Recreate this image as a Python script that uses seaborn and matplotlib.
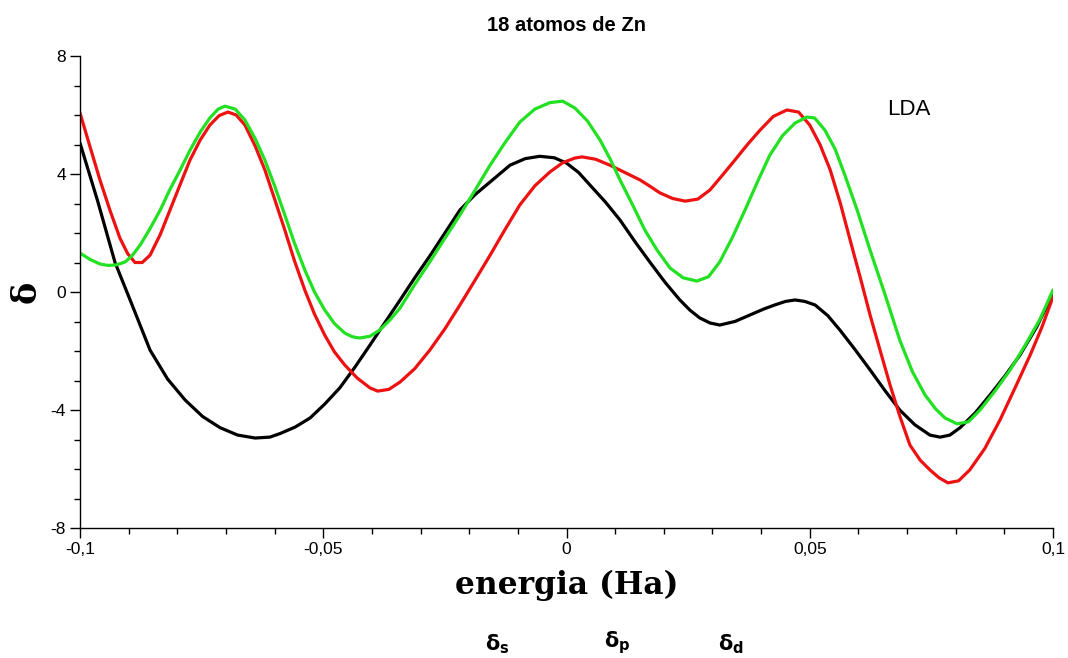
import numpy as np
import pandas as pd
import matplotlib
matplotlib.use("Agg")
import matplotlib.pyplot as plt
import seaborn as sns
from matplotlib.ticker import MultipleLocator, FixedLocator

# ---------------- data ----------------
title = "18 atomos de Zn"
x_label = "energia (Ha)"
y_label = "δ"
annotation = "LDA"
series_names = ["s", "p", "d"]
series_colors = ["#000000", "#ee1111", "#22e022"]

xticks = [-0.1, -0.05, 0.0, 0.05, 0.1]
xtick_labels = ["-0,1", "-0,05", "0", "0,05", "0,1"]
yticks = [-8, -4, 0, 4, 8]
ytick_labels = ["-8", "-4", "0", "4", "8"]

s_x = [-0.1, -0.0964, -0.0928, -0.0897, -0.0856, -0.0820, -0.0784, -0.0748, -0.0712,
       -0.0676, -0.0640, -0.0610, -0.0589, -0.0558, -0.0527, -0.0497, -0.0466,
       -0.0435, -0.0404, -0.0373, -0.0342, -0.0312, -0.0281, -0.0250, -0.0219,
       -0.0188, -0.0157, -0.0116, -0.0085, -0.0055, -0.0025, 0.0, 0.0025, 0.0048,
       0.0080, 0.0110, 0.0141, 0.0172, 0.0203, 0.0233, 0.0254, 0.0274, 0.0295,
       0.0315, 0.0346, 0.0377, 0.0405, 0.0428, 0.0450, 0.0470, 0.0490, 0.0511,
       0.0537, 0.0562, 0.0593, 0.0624, 0.0655, 0.0685, 0.0716, 0.0747, 0.0768,
       0.0788, 0.0809, 0.0840, 0.0870, 0.0901, 0.0932, 0.0966, 0.1]
s_y = [5.05, 3.1, 1.0, -0.27, -1.97, -2.95, -3.66, -4.22, -4.6,
       -4.85, -4.95, -4.92, -4.8, -4.58, -4.27, -3.8, -3.25,
       -2.55, -1.8, -1.03, -0.27, 0.48, 1.22, 2.0, 2.78,
       3.3, 3.73, 4.3, 4.52, 4.6, 4.55, 4.37, 4.05, 3.63,
       3.05, 2.44, 1.7, 1.0, 0.32, -0.27, -0.62, -0.88, -1.05,
       -1.12, -1.0, -0.78, -0.58, -0.44, -0.32, -0.27, -0.32, -0.44,
       -0.8, -1.29, -1.95, -2.64, -3.35, -4.0, -4.5, -4.85, -4.92,
       -4.85, -4.6, -4.1, -3.5, -2.85, -2.14, -1.2, -0.05]

p_x = [-0.1, -0.0979, -0.0959, -0.0938, -0.0918, -0.0902, -0.0887, -0.0872, -0.0856,
       -0.0835, -0.0815, -0.0794, -0.0774, -0.0753, -0.0733, -0.0714, -0.0696,
       -0.0679, -0.0661, -0.0640, -0.0620, -0.0600, -0.0579, -0.0559, -0.0538,
       -0.0518, -0.0497, -0.0477, -0.0456, -0.0430, -0.0404, -0.0388, -0.0365,
       -0.0342, -0.0312, -0.0281, -0.0250, -0.0219, -0.0188, -0.0157, -0.0127,
       -0.0096, -0.0065, -0.0034, -0.0008, 0.0017, 0.0032, 0.0060, 0.0089, 0.0120,
       0.0151, 0.0172, 0.0192, 0.0218, 0.0244, 0.0270, 0.0295, 0.0320, 0.0346,
       0.0372, 0.0398, 0.0425, 0.0453, 0.0477, 0.0500, 0.0521, 0.0542, 0.0563,
       0.0583, 0.0604, 0.0624, 0.0645, 0.0665, 0.0686, 0.0706, 0.0727, 0.0747,
       0.0766, 0.0784, 0.0806, 0.0829, 0.0860, 0.0891, 0.0922, 0.0953, 0.0977, 0.1]
p_y = [6.07, 4.9, 3.8, 2.75, 1.83, 1.3, 1.0, 1.0, 1.25,
       1.95, 2.78, 3.65, 4.47, 5.15, 5.66, 5.98, 6.1,
       6.0, 5.66, 4.95, 4.14, 3.15, 2.1, 1.05, 0.07,
       -0.75, -1.46, -2.03, -2.47, -2.92, -3.25, -3.36, -3.3,
       -3.05, -2.6, -1.97, -1.25, -0.44, 0.4, 1.25, 2.1,
       2.95, 3.6, 4.07, 4.38, 4.54, 4.58, 4.5, 4.3, 4.05,
       3.8, 3.58, 3.36, 3.17, 3.08, 3.15, 3.46, 3.95, 4.47,
       5.0, 5.49, 5.95, 6.17, 6.1, 5.66, 5.0, 4.14, 3.0,
       1.76, 0.48, -0.78, -2.0, -3.15, -4.25, -5.19, -5.7, -6.03,
       -6.3, -6.47, -6.4, -6.03, -5.3, -4.34, -3.25, -2.14, -1.2, -0.17]

d_x = [-0.1, -0.0979, -0.0959, -0.0942, -0.0925, -0.0907, -0.0892, -0.0876, -0.0856,
       -0.0835, -0.0815, -0.0794, -0.0774, -0.0753, -0.0733, -0.0716, -0.0702,
       -0.0681, -0.0661, -0.0640, -0.0620, -0.0600, -0.0579, -0.0559, -0.0538,
       -0.0518, -0.0497, -0.0477, -0.0456, -0.0440, -0.0425, -0.0404, -0.0384,
       -0.0363, -0.0342, -0.0312, -0.0281, -0.0250, -0.0219, -0.0188, -0.0157,
       -0.0127, -0.0096, -0.0065, -0.0034, -0.0008, 0.0017, 0.0043, 0.0069, 0.0090,
       0.0110, 0.0136, 0.0161, 0.0187, 0.0213, 0.0240, 0.0268, 0.0292, 0.0315,
       0.0341, 0.0367, 0.0393, 0.0418, 0.0444, 0.0470, 0.0494, 0.0510, 0.0531,
       0.0552, 0.0572, 0.0598, 0.0624, 0.0655, 0.0685, 0.0711, 0.0737, 0.0758,
       0.0778, 0.0803, 0.0826, 0.0850, 0.0881, 0.0912, 0.0943, 0.0974, 0.1]
d_y = [1.32, 1.1, 0.95, 0.9, 0.92, 1.02, 1.25, 1.6, 2.15,
       2.78, 3.48, 4.14, 4.8, 5.42, 5.9, 6.2, 6.3,
       6.2, 5.83, 5.2, 4.47, 3.6, 2.61, 1.65, 0.75,
       0.0, -0.61, -1.07, -1.39, -1.52, -1.56, -1.5, -1.29,
       -0.95, -0.54, 0.25, 1.02, 1.82, 2.61, 3.45, 4.3,
       5.05, 5.76, 6.2, 6.42, 6.47, 6.24, 5.8, 5.15, 4.5,
       3.8, 2.95, 2.1, 1.4, 0.81, 0.48, 0.37, 0.52, 1.02,
       1.85, 2.78, 3.75, 4.64, 5.3, 5.73, 5.93, 5.9, 5.49,
       4.85, 3.97, 2.75, 1.42, -0.1, -1.63, -2.7, -3.49, -3.95,
       -4.27, -4.47, -4.4, -4.0, -3.35, -2.64, -1.8, -0.9, 0.07]

# ---------------- build long table ----------------
frames = []
for name, xs, ys in [("s", s_x, s_y), ("p", p_x, p_y), ("d", d_x, d_y)]:
    frames.append(pd.DataFrame({"energia": xs, "delta": ys, "orbital": name}))
df = pd.concat(frames, ignore_index=True)

sns.set_theme(style="ticks")
plt.rcParams["font.family"] = ["Liberation Sans", "DejaVu Sans"]
plt.rcParams["text.color"] = "black"
plt.rcParams["axes.labelcolor"] = "black"

fig = plt.figure(figsize=(10.68, 6.58), dpi=100)
ax = fig.add_axes([80 / 1068, 1 - 528 / 658, (1053 - 80) / 1068, (528 - 56) / 658])

sns.lineplot(data=df, x="energia", y="delta", hue="orbital",
             hue_order=series_names, palette=series_colors,
             estimator=None, sort=True, linewidth=2.3, legend=False, ax=ax)

ax.set_xlim(-0.1, 0.1)
ax.set_ylim(-8, 8)
ax.xaxis.set_major_locator(FixedLocator(xticks))
ax.set_xticklabels(xtick_labels)
ax.xaxis.set_minor_locator(MultipleLocator(0.01))
ax.yaxis.set_major_locator(FixedLocator(yticks))
ax.set_yticklabels(ytick_labels)
ax.yaxis.set_minor_locator(MultipleLocator(1))
ax.tick_params(axis="both", which="major", direction="out", length=7, width=1,
               color="black", labelsize=12.5, labelcolor="black", pad=3)
ax.tick_params(axis="both", which="minor", direction="out", length=4, width=1,
               color="black")
for side in ["top", "right"]:
    ax.spines[side].set_visible(False)
for side in ["left", "bottom"]:
    ax.spines[side].set_color("black")
    ax.spines[side].set_linewidth(1)

ax.set_xlabel(x_label, fontsize=22.5, fontweight="bold", color="black",
              family=["DejaVu Serif"], labelpad=9)
ax.set_ylabel(y_label, fontsize=24, fontweight="bold", color="black",
              family=["DejaVu Serif"], labelpad=6)
ax.set_title(title, fontsize=14.5, fontweight="bold", color="black", pad=18)
ax.text(0.0704, 6.17, annotation, fontsize=16, ha="center", va="center",
        color="black")

# legend labels at bottom
leg_x = [497, 617, 731]
for name, lx in zip(series_names, leg_x):
    fig.text(lx / 1068, 1 - 656 / 658, "δ$_\\mathbf{" + name + "}$", fontsize=15,
             fontweight="bold", ha="center", va="bottom", color="black",
             family=["DejaVu Sans"])

fig.savefig("out.png", dpi=100)
